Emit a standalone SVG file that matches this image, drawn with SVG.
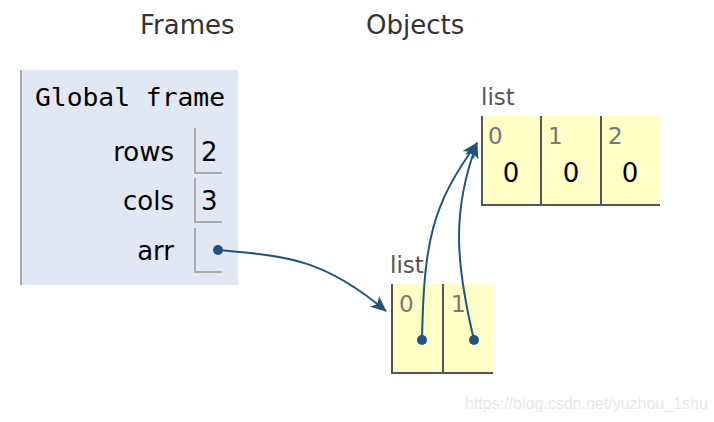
<svg xmlns="http://www.w3.org/2000/svg" width="714" height="422" viewBox="0 0 714 422">
<defs>
<style>
.hdr{font-family:"DejaVu Sans",Verdana,sans-serif;font-size:26px;fill:#333}
.var{font-family:"DejaVu Sans",Verdana,sans-serif;font-size:26px;fill:#000;text-anchor:end}
.val{font-family:"DejaVu Sans",Verdana,sans-serif;font-size:26px;fill:#000}
.mono{font-family:"DejaVu Sans Mono","Liberation Mono",monospace;font-size:25px;fill:#000}
.tl{font-family:"DejaVu Sans",Verdana,sans-serif;font-size:23px;fill:#555}
.idx{font-family:"DejaVu Sans",Verdana,sans-serif;font-size:23px;fill:#777}
.lv{font-family:"DejaVu Sans",Verdana,sans-serif;font-size:26px;fill:#000;text-anchor:middle}
.vb{fill:none;stroke:#aaa;stroke-width:2}
.cell{fill:#ffffc6}
.cb{fill:none;stroke:#555;stroke-width:2}
.ptr{fill:none;stroke:#1f5480;stroke-width:2}
.dot{fill:#1f5480}
.wm{font-family:"Liberation Sans",Arial,sans-serif;font-size:16px;fill:#e8e8e8}
</style>
<marker id="ah" viewBox="0 0 16 14" refX="15" refY="7" markerWidth="16" markerHeight="14" markerUnits="userSpaceOnUse" orient="auto">
<path d="M0,0 L16,7 L0,14 L4,7 Z" fill="#1f5480"/>
</marker>
</defs>
<rect width="714" height="422" fill="#fff"/>
<text class="hdr" x="140" y="34">Frames</text>
<text class="hdr" x="366" y="34">Objects</text>
<g id="global-frame">
<rect x="20" y="70" width="218" height="215" fill="#e2e8f3"/>
<line x1="21" y1="70" x2="21" y2="285" stroke="#aaa" stroke-width="2"/>
<text class="mono" x="35" y="106" textLength="190" lengthAdjust="spacingAndGlyphs">Global frame</text>
<text class="var" x="174" y="161">rows</text>
<path class="vb" d="M195,128 V173 H222"/>
<text class="val" x="201" y="161">2</text>
<text class="var" x="174" y="210">cols</text>
<path class="vb" d="M195,178 V222 H222"/>
<text class="val" x="201" y="210">3</text>
<text class="var" x="174" y="260">arr</text>
<path class="vb" d="M195,228 V272 H222"/>
</g>
<g id="list-inner">
<text class="tl" x="481" y="105">list</text>
<rect class="cell" x="481" y="116" width="179" height="89"/>
<path class="cb" d="M482,116 V205 H660 M541,116 V205 M601,116 V205"/>
<text class="idx" x="488" y="144">0</text>
<text class="idx" x="548" y="144">1</text>
<text class="idx" x="608" y="144">2</text>
<text class="lv" x="511" y="182">0</text>
<text class="lv" x="571" y="182">0</text>
<text class="lv" x="630" y="182">0</text>
</g>
<g id="list-outer">
<text class="tl" x="390" y="273">list</text>
<rect class="cell" x="391" y="284" width="102" height="89"/>
<path class="cb" d="M392,284 V373 H493 M443,284 V373"/>
<text class="idx" x="399" y="312">0</text>
<text class="idx" x="451" y="312">1</text>
</g>
<g id="connectors">
<path class="ptr" d="M218,250 C290,256 325,260 386,311" marker-end="url(#ah)"/>
<path class="ptr" d="M422,340 C424,240 432,205 477,143" marker-end="url(#ah)"/>
<path class="ptr" d="M474,340 C455,260 452,210 477,143" marker-end="url(#ah)"/>
<circle class="dot" cx="218" cy="250" r="5"/>
<circle class="dot" cx="422" cy="340" r="5"/>
<circle class="dot" cx="474" cy="340" r="5"/>
</g>
<text class="wm" x="465" y="409">https://blog.csdn.net/yuzhou_1shu</text>
</svg>
